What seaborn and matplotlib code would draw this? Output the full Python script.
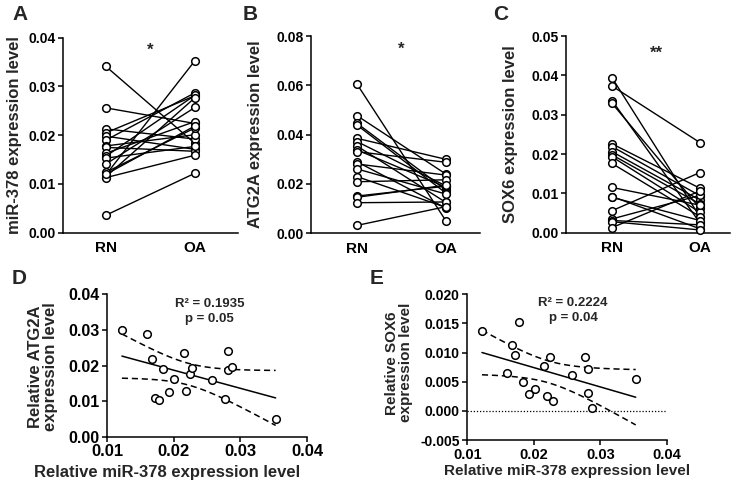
import numpy as np
import pandas as pd
import matplotlib
matplotlib.use("Agg")
import matplotlib.pyplot as plt
import seaborn as sns

# ---------------------------------------------------------------------------
# Data (18 paired samples)
# ---------------------------------------------------------------------------
groups = ["RN", "OA"]

mir_rn = [0.0341, 0.0256, 0.0213, 0.0205, 0.0198, 0.0190, 0.0178, 0.0175, 0.0163,
          0.0157, 0.0153, 0.0141, 0.0124, 0.0119, 0.0115, 0.0113, 0.0120, 0.0036]
mir_oa = [0.0183, 0.0224, 0.0192, 0.0281, 0.0171, 0.0287, 0.0201, 0.0167, 0.0228,
          0.0282, 0.0177, 0.0257, 0.0215, 0.0353, 0.0277, 0.0159, 0.0219, 0.0122]

atg_rn = [0.0605, 0.0477, 0.0446, 0.0439, 0.0385, 0.0372, 0.0354, 0.0338, 0.0331,
          0.0290, 0.0281, 0.0261, 0.0230, 0.0209, 0.0151, 0.0146, 0.0124, 0.0032]
atg_oa = [0.0050, 0.0240, 0.0176, 0.0163, 0.0300, 0.0192, 0.0125, 0.0187, 0.0288,
          0.0102, 0.0236, 0.0159, 0.0105, 0.0217, 0.0191, 0.0195, 0.0127, 0.0108]

sox_rn = [0.0394, 0.0373, 0.0336, 0.0329, 0.0226, 0.0219, 0.0206, 0.0198, 0.0193,
          0.0176, 0.0115, 0.0092, 0.0090, 0.0056, 0.0035, 0.0031, 0.0028, 0.0013]
sox_oa = [0.0040, 0.0229, 0.0025, 0.0062, 0.0113, 0.0094, 0.0083, 0.0073, 0.0052,
          0.0041, 0.0070, 0.0010, 0.0031, 0.0153, 0.0095, 0.0020, 0.0007, 0.0106]

# correlation panels (OA samples)
corr_mir = [0.0122, 0.0159, 0.0167, 0.0171, 0.0177, 0.0183, 0.0192, 0.0201, 0.0215,
            0.0219, 0.0224, 0.0228, 0.0257, 0.0277, 0.0281, 0.0282, 0.0287, 0.0353]
corr_atg = [0.0300, 0.0288, 0.0217, 0.0108, 0.0102, 0.0191, 0.0125, 0.0163, 0.0236,
            0.0127, 0.0176, 0.0192, 0.0159, 0.0105, 0.0187, 0.0240, 0.0195, 0.0050]
corr_sox = [0.0137, 0.0065, 0.0113, 0.0096, 0.0153, 0.0049, 0.0029, 0.0037, 0.0077,
            0.0026, 0.0093, 0.0017, 0.0061, 0.0092, 0.0071, 0.0030, 0.0005, 0.0054]

T_975_DF16 = 2.120  # two-sided 95% t value, n - 2 = 16

sns.set_theme(style="ticks")
plt.rcParams["font.family"] = ["Liberation Sans", "DejaVu Sans"]
plt.rcParams["font.weight"] = "bold"
plt.rcParams["axes.linewidth"] = 1.1
plt.rcParams["xtick.major.width"] = 1.1
plt.rcParams["ytick.major.width"] = 1.1
plt.rcParams["xtick.major.size"] = 3.5
plt.rcParams["ytick.major.size"] = 3.5
plt.rcParams["xtick.major.pad"] = 2
plt.rcParams["ytick.major.pad"] = 2
plt.rcParams["xtick.color"] = "black"
plt.rcParams["ytick.color"] = "black"
plt.rcParams["axes.edgecolor"] = "black"


def _paired_panel(ax, rn, oa, ylabel, yticks, fmt, xlim, star, star_y):
    n = len(rn)
    df = pd.DataFrame({
        "pair": list(range(n)) * 2,
        "group": ["RN"] * n + ["OA"] * n,
        "value": list(rn) + list(oa),
    })
    sns.lineplot(data=df, x="group", y="value", units="pair", estimator=None,
                 color="black", lw=1.0, legend=False, ax=ax, zorder=2)
    sns.scatterplot(data=df, x="group", y="value", s=30, color="white",
                    edgecolor="black", linewidth=1.1, legend=False, ax=ax,
                    zorder=3, clip_on=False)
    ax.set_xlim(*xlim)
    ax.set_ylim(yticks[0], yticks[-1])
    ax.set_yticks(yticks)
    ax.set_yticklabels([fmt.format(t) for t in yticks], fontsize=10, fontweight="bold")
    ax.tick_params(axis="x", labelsize=11, length=0, pad=6)
    for lab in ax.get_xticklabels():
        lab.set_fontweight("bold")
    ax.set_xlabel("")
    ax.set_ylabel(ylabel, fontsize=12, fontweight="bold")
    ax.text(0.5, star_y, star, ha="center", va="center", fontsize=12, fontweight="bold")
    sns.despine(ax=ax)


def _corr_panel(ax, x, y, ylabel, yticks, fmt, r2_text, text_xy, fs_tick, fs_lab, zero_line):
    x = np.asarray(x)
    y = np.asarray(y)
    sns.regplot(x=x, y=y, ci=None, ax=ax, color="black",
                scatter_kws=dict(s=30, facecolors="white", edgecolors="black",
                                 linewidths=1.1, alpha=1, zorder=3),
                line_kws=dict(lw=1.1, zorder=2))
    # 95% confidence band of the fit
    b, a = np.polyfit(x, y, 1)
    resid = y - (a + b * x)
    s = np.sqrt(np.sum(resid ** 2) / (len(x) - 2))
    xs = np.linspace(x.min(), x.max(), 100)
    se = s * np.sqrt(1 / len(x) + (xs - x.mean()) ** 2 / np.sum((x - x.mean()) ** 2))
    fit = a + b * xs
    for band in (fit + T_975_DF16 * se, fit - T_975_DF16 * se):
        ax.plot(xs, band, color="black", lw=1.1, ls=(0, (4, 2.5)), zorder=2)
    if zero_line:
        ax.axhline(0, color="black", lw=0.9, ls=(0, (1, 1.5)), zorder=1)
    ax.set_xlim(0.01, 0.04)
    ax.set_xticks([0.01, 0.02, 0.03, 0.04])
    ax.set_xticklabels(["0.01", "0.02", "0.03", "0.04"], fontsize=fs_tick + 0.5, fontweight="bold")
    ax.set_ylim(yticks[0], yticks[-1])
    ax.set_yticks(yticks)
    ax.set_yticklabels([fmt.format(t) for t in yticks], fontsize=fs_tick, fontweight="bold")
    ax.set_ylabel(ylabel, fontsize=fs_lab, fontweight="bold", linespacing=1.0)
    ax.set_xlabel("Relative miR-378 expression level", fontsize=fs_lab, fontweight="bold")
    ax.text(text_xy[0], text_xy[1], r2_text, ha="center", va="center",
            fontsize=9.5, fontweight="bold", linespacing=1.3)
    sns.despine(ax=ax)


fig = plt.figure(figsize=(7.47, 4.82), dpi=100)

ax_a = fig.add_axes([0.0843, 0.5172, 0.2343, 0.4046])
ax_b = fig.add_axes([0.4163, 0.5160, 0.2262, 0.4093])
ax_c = fig.add_axes([0.7577, 0.5172, 0.2195, 0.4081])
ax_d = fig.add_axes([0.1436, 0.0940, 0.2673, 0.2954])
ax_e = fig.add_axes([0.6256, 0.0871, 0.2673, 0.3023])

_paired_panel(ax_a, mir_rn, mir_oa, "miR-378 expression level",
              [0.0, 0.01, 0.02, 0.03, 0.04], "{:.2f}", (-0.483, 1.483), "*", 0.0375)
_paired_panel(ax_b, atg_rn, atg_oa, "ATG2A expression level",
              [0.0, 0.02, 0.04, 0.06, 0.08], "{:.2f}", (-0.517, 1.382), "*", 0.0745)
_paired_panel(ax_c, sox_rn, sox_oa, "SOX6 expression level",
              [0.0, 0.01, 0.02, 0.03, 0.04, 0.05], "{:.2f}", (-0.523, 1.341), "**", 0.0455)

_corr_panel(ax_d, corr_mir, corr_atg, "Relative ATG2A\nexpression level",
            [0.0, 0.01, 0.02, 0.03, 0.04], "{:.2f}", "R² = 0.1935\np = 0.05",
            (0.0254, 0.0352), 11.5, 12, False)
_corr_panel(ax_e, corr_mir, corr_sox, "Relative SOX6\nexpression level",
            [-0.005, 0.0, 0.005, 0.010, 0.015, 0.020], "{:.3f}", "R² = 0.2224\np = 0.04",
            (0.0259, 0.0172), 10, 11, True)

# label placement
ax_a.yaxis.set_label_coords(-0.236, 0.5)
ax_b.yaxis.set_label_coords(-0.284, 0.5)
ax_c.yaxis.set_label_coords(-0.293, 0.5)
ax_d.yaxis.set_label_coords(-0.245, 0.49)
ax_e.yaxis.set_label_coords(-0.272, 0.53)
ax_d.xaxis.set_label_coords(0.30, -0.20)
ax_e.xaxis.set_label_coords(0.50, -0.165)

# panel letters
for letter, (px, py) in zip("ABCDE", [(12, 14), (243, 14), (493, 14), (12, 278), (370, 278)]):
    fig.text(px / 747, 1 - py / 482, letter, fontsize=15, fontweight="bold",
             ha="left", va="center")

fig.savefig("out.png", dpi=100)
plt.close(fig)
